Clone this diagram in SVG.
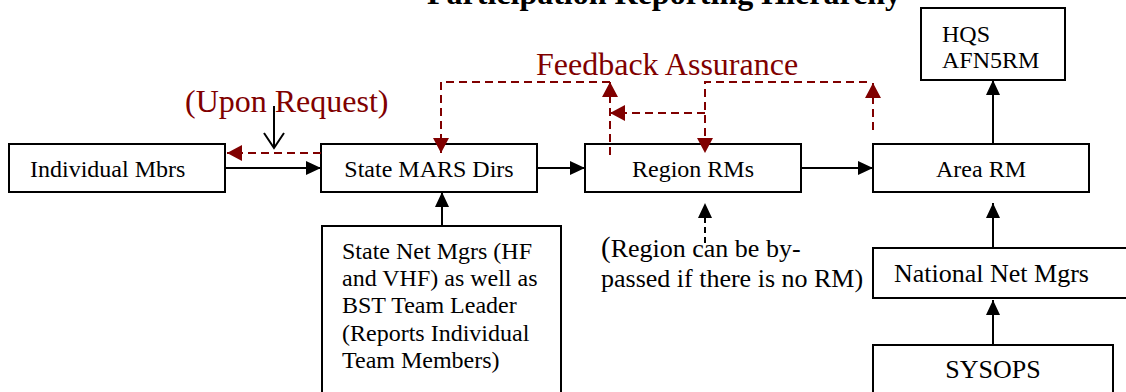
<svg xmlns="http://www.w3.org/2000/svg" width="1126" height="392" viewBox="0 0 1126 392">
<style>
.box{fill:#fff;stroke:#000;stroke-width:2}
.t{font-family:"Liberation Serif","Times New Roman",serif;font-size:24px;fill:#000}
.t26{font-family:"Liberation Serif","Times New Roman",serif;font-size:26px;fill:#000}
.red{font-family:"Liberation Serif","Times New Roman",serif;font-size:32px;fill:#800000}
.title{font-family:"Liberation Serif","Times New Roman",serif;font-size:32px;font-weight:bold;fill:#000}
.c{fill:none;stroke:#000;stroke-width:2}
.cr{fill:none;stroke:#800000;stroke-width:2;stroke-dasharray:8,5}
.cb{fill:none;stroke:#000;stroke-width:2;stroke-dasharray:6,4}
</style>
<defs>
<marker id="ab" markerWidth="16" markerHeight="14" refX="15" refY="7" orient="auto" markerUnits="userSpaceOnUse"><path d="M0,0 L15,7 L0,14 z" fill="#000"/></marker>
<marker id="ar" markerWidth="16" markerHeight="16" refX="15" refY="8" orient="auto" markerUnits="userSpaceOnUse"><path d="M0,0 L15,8 L0,16 z" fill="#800000"/></marker>
</defs>
<text class="title" x="664" y="4" text-anchor="middle">Participation Reporting Hierarchy</text>
<g id="individual"><rect class="box" x="9" y="144" width="216" height="48"/><text class="t" x="30" y="177">Individual Mbrs</text></g>
<g id="statemars"><rect class="box" x="321" y="144" width="216" height="48"/><text class="t" x="429" y="177" text-anchor="middle">State MARS Dirs</text></g>
<g id="region"><rect class="box" x="585" y="144" width="216" height="48"/><text class="t" x="693" y="177" text-anchor="middle">Region RMs</text></g>
<g id="area"><rect class="box" x="873" y="144" width="216" height="48"/><text class="t" x="981" y="177" text-anchor="middle">Area RM</text></g>
<g id="hqs"><rect class="box" x="921" y="8" width="144" height="72"/><text class="t" x="942" y="42">HQS</text><text class="t" x="942" y="68">AFN5RM</text></g>
<g id="statenet"><rect class="box" x="322" y="226" width="239" height="180"/>
<text class="t" x="342" y="259">State Net Mgrs (HF</text>
<text class="t" x="342" y="286">and VHF) as well as</text>
<text class="t" x="342" y="313">BST Team Leader</text>
<text class="t" x="342" y="341">(Reports Individual</text>
<text class="t" x="342" y="368">Team Members)</text></g>
<g id="national"><rect class="box" x="873" y="248" width="270" height="50"/><text class="t26" x="894" y="282">National Net Mgrs</text></g>
<g id="sysops"><rect class="box" x="873" y="345" width="240" height="60"/><text class="t26" x="993" y="378" text-anchor="middle">SYSOPS</text></g>
<g id="labels">
<text class="red" x="185" y="112">(Upon Request)</text>
<text class="red" x="536" y="75">Feedback Assurance</text>
<text class="t26" x="601" y="257"><tspan font-size="29">(</tspan>Region can be by-</text>
<text class="t26" x="601" y="287">passed if there is no RM)</text>
</g>
<g id="connectors">
<path class="c" d="M225,168 H321" marker-end="url(#ab)"/>
<path class="c" d="M537,168 H585" marker-end="url(#ab)"/>
<path class="c" d="M801,168 H873" marker-end="url(#ab)"/>
<path class="c" d="M993,144 V80" marker-end="url(#ab)"/>
<path class="c" d="M993,248 V203" marker-end="url(#ab)"/>
<path class="c" d="M993,345 V300" marker-end="url(#ab)"/>
<path class="c" d="M442,226 V192" marker-end="url(#ab)"/>
<path class="c" d="M274,106 V148 M264,133 L274,148 L284,133"/>
<path class="cr" d="M321,153 H227" marker-end="url(#ar)"/>
<path class="cr" d="M610,82 H441 V153" marker-end="url(#ar)"/>
<path class="cr" d="M610,155 V82" marker-end="url(#ar)"/>
<path class="cr" d="M705,113 H610" marker-end="url(#ar)"/>
<path class="cr" d="M867,82 H705 V153" marker-end="url(#ar)"/>
<path class="cr" d="M873,130 V83" marker-end="url(#ar)"/>
<path class="cb" d="M705,243 V203" marker-end="url(#ab)"/>
</g>
</svg>
